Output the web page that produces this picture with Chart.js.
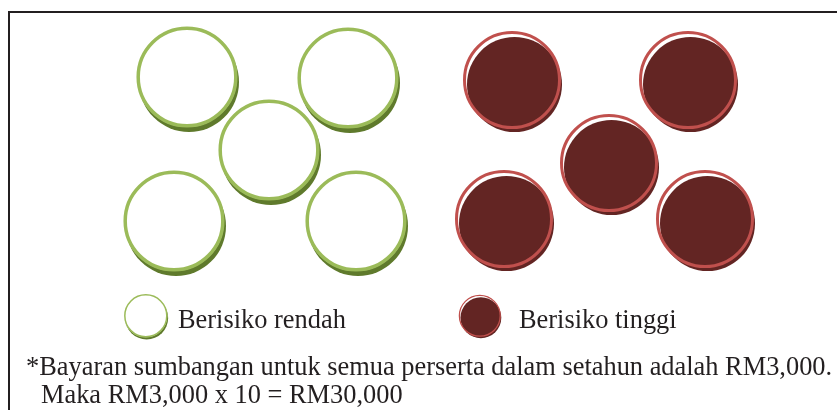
<!DOCTYPE html>
<html>
<head>
<meta charset="utf-8">
<script src="https://cdn.jsdelivr.net/npm/chart.js@4.4.0/dist/chart.umd.min.js"></script>
<style>
  body { margin: 0; background: #fff; }
  #wrap { position: relative; width: 837px; height: 410px; overflow: hidden; background: #fff; }
  #pictoCanvas { position: absolute; left: 0; top: 0; }
  .frame { position: absolute; left: 8px; top: 11px; width: 840px; height: 410px;
           border-top: 2px solid #231f20; border-left: 2px solid #231f20; }
  .txt { position: absolute; font-family: "Liberation Serif", "Times New Roman", serif;
         font-size: 26.4px; line-height: 26px; color: #231f20; white-space: nowrap; }
  .legend-icon { position: absolute; }
</style>
</head>
<body>
<div id="wrap">
  <div class="frame"></div>
  <canvas id="pictoCanvas" width="837" height="410"></canvas>
  <canvas class="legend-icon" id="iconLow" style="left:120px;top:290px"></canvas>
  <canvas class="legend-icon" id="iconHigh" style="left:454px;top:290px"></canvas>
  <div class="txt" style="left:178px;top:306px">Berisiko rendah</div>
  <div class="txt" style="left:519px;top:306px">Berisiko tinggi</div>
  <div class="txt" style="left:26px;top:353px">*Bayaran sumbangan untuk semua perserta dalam setahun adalah RM3,000.</div>
  <div class="txt" style="left:41px;top:381px">Maka RM3,000 x 10 = RM30,000</div>
</div>
<script>
// Data: 10 peserta, 5 berisiko rendah dan 5 berisiko tinggi
var categories = ["Berisiko rendah", "Berisiko tinggi"];
var lowRiskX = [187, 348, 269, 174, 356];
var lowRiskY = [77, 78, 150, 221, 221];
var highRiskX = [512, 688, 609, 504, 705];
var highRiskY = [80, 80, 163, 219, 219];

// Ikon bulatan dengan bayang
function makeIcon(kind, scale) {
  var c = document.createElement("canvas");
  var size = Math.round(120 * scale);
  c.width = size;
  c.height = size;
  var ctx = c.getContext("2d");
  ctx.scale(scale, scale);
  var mid = 60;
  if (kind === "low") {
    // bayang hijau gelap
    ctx.beginPath();
    ctx.arc(mid + 2, mid + 5, 50, 0, Math.PI * 2);
    ctx.fillStyle = "#5f7a2c";
    ctx.fill();
    ctx.beginPath();
    ctx.arc(mid, mid, 50, 0, Math.PI * 2);
    ctx.fillStyle = "#ffffff";
    ctx.fill();
    ctx.beginPath();
    ctx.arc(mid, mid, 48.8, 0, Math.PI * 2);
    ctx.lineWidth = 3.5;
    ctx.strokeStyle = "#9bbb59";
    ctx.stroke();
  } else {
    ctx.beginPath();
    ctx.arc(mid + 2.5, mid + 4.5, 47.5, 0, Math.PI * 2);
    ctx.fillStyle = "#632523";
    ctx.fill();
    ctx.beginPath();
    ctx.arc(mid, mid, 47.5, 0, Math.PI * 2);
    ctx.lineWidth = 3;
    ctx.strokeStyle = "#c0504d";
    ctx.stroke();
  }
  return c;
}

var lowIcon = makeIcon("low", 1);
var highIcon = makeIcon("high", 1);

function toPoints(xs, ys) {
  return xs.map(function (x, i) {
    return { x: x, y: ys[i] };
  });
}

var ctx = document.getElementById("pictoCanvas").getContext("2d");
var pictoChart = new Chart(ctx, {
  type: "scatter",
  data: {
    datasets: [
      {
        label: categories[0],
        data: toPoints(lowRiskX, lowRiskY),
        pointStyle: lowIcon,
        pointRadius: 50,
      },
      {
        label: categories[1],
        data: toPoints(highRiskX, highRiskY),
        pointStyle: highIcon,
        pointRadius: 50,
      },
    ],
  },
  options: {
    responsive: false,
    animation: false,
    events: [],
    layout: { padding: 0, autoPadding: false },
    plugins: { legend: { display: false }, tooltip: { enabled: false } },
    scales: {
      x: { display: false, min: 0, max: 837 },
      y: { display: false, min: 0, max: 410, reverse: true },
    },
  },
});

// Ikon legenda (versi kecil)
function copyIcon(id, kind) {
  var src = makeIcon(kind, 0.43);
  var el = document.getElementById(id);
  el.width = src.width;
  el.height = src.height;
  el.getContext("2d").drawImage(src, 0, 0);
}
copyIcon("iconLow", "low");
copyIcon("iconHigh", "high");
</script>
</body>
</html>
